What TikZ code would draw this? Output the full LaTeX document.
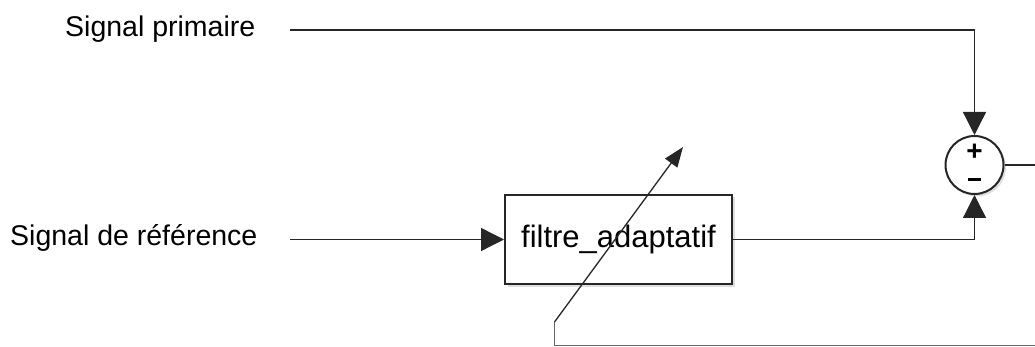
\documentclass[tikz,border=0pt]{standalone}
\usepackage{fontspec}
\setmainfont{Liberation Sans}
\usetikzlibrary{arrows.meta,shadows}
\begin{document}
\begin{tikzpicture}[x=1pt,y=-1pt,
  wire/.style={line width=1.3pt, draw=black!85},
  arr/.style={wire, -{Triangle[length=23pt,width=23pt]}},
  lbl/.style={font=\fontsize{28.5}{32}\selectfont, inner sep=0pt},
  sh/.style={drop shadow={opacity=0.25, shadow xshift=2.5pt, shadow yshift=-2.5pt}},
  blockbox/.style={draw=black!85, line width=2pt, fill=white, sh, minimum width=227pt, minimum height=89pt, inner sep=0pt, font=\fontsize{31}{34}\selectfont},
  sumnode/.style={circle, draw=black!85, line width=2pt, fill=white, sh, minimum size=58pt, inner sep=0pt},
  sign/.style={font=\fontsize{28}{30}\selectfont\bfseries, inner sep=0pt}]
\useasboundingbox (0,0) rectangle (1035,347);
% labels
\node[lbl, anchor=base west] (sp) at (65,37) {Signal primaire};
\node[lbl, anchor=base west] (sr) at (10,245) {Signal de référence};
% blocks
\node[blockbox] (f) at (618.5,239.5) {filtre\_adaptatif};
\node[sumnode] (s) at (974.5,165) {};
\node[sign] (plus) at (974.5,152) {+};
\node[sign] (minus) at (974.5,180) {\rule{13pt}{3pt}};
% coordinates
\coordinate (p0) at (290,30);
\coordinate (r0) at (290,239.5);
\coordinate (out) at (1035,165);
\coordinate (fbR) at (1035,345.5);
\coordinate (fbL) at (554.5,345.5);
\coordinate (d0) at (554.5,322);
\coordinate (d1) at (683,147);
% connectors
\draw[arr] (p0) -| (s.north);
\draw[arr] (r0) -- (f.west);
\draw[arr] (f.east) -| (s.south);
\draw[wire] (s.east) -- (out);
\draw[wire, draw=black!60] (fbR) -- (fbL) -- (d0);
\draw[wire, -{Triangle[length=20pt,width=15pt]}] (d0) -- (d1);
\end{tikzpicture}
\end{document}
